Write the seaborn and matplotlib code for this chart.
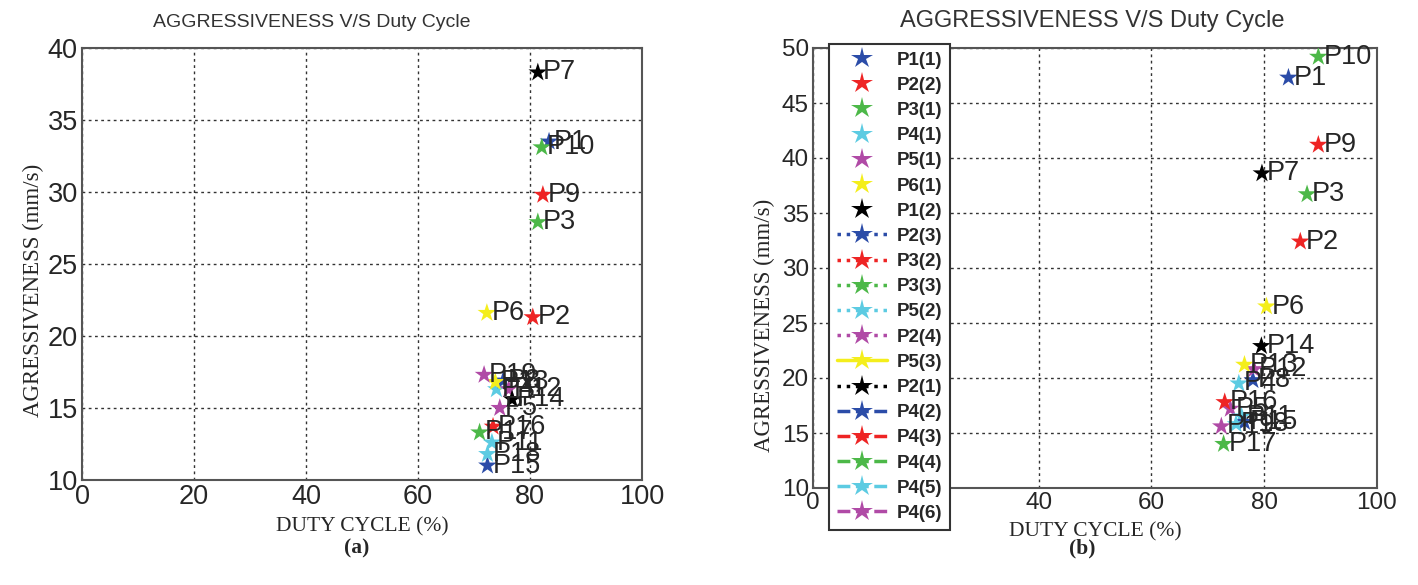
import matplotlib
matplotlib.use("Agg")
import matplotlib.pyplot as plt
from matplotlib.lines import Line2D
import pandas as pd
import seaborn as sns

# point names and legend entries
points = ["P%d" % i for i in range(1, 20)]
legend_labels = ["P1(1)", "P2(2)", "P3(1)", "P4(1)", "P5(1)", "P6(1)", "P1(2)",
                 "P2(3)", "P3(2)", "P3(3)", "P5(2)", "P2(4)", "P5(3)", "P2(1)",
                 "P4(2)", "P4(3)", "P4(4)", "P4(5)", "P4(6)"]

# panel (a)
duty_a = [83.4, 80.5, 81.4, 74.0, 74.6, 72.3, 81.4, 75.2, 82.3, 82.1,
          73.2, 76.2, 73.8, 76.8, 72.4, 73.4, 71.0, 72.4, 71.8]
aggr_a = [33.5, 21.3, 27.9, 16.3, 15.0, 21.6, 38.3, 16.9, 29.8, 33.1,
          12.6, 16.3, 16.8, 15.6, 11.0, 13.7, 13.3, 11.8, 17.3]

# panel (b)
duty_b = [84.3, 86.4, 87.6, 75.5, 74.0, 80.4, 79.6, 78.0, 89.6, 89.6,
          76.0, 78.2, 76.5, 79.5, 76.5, 73.0, 72.8, 75.0, 72.4]
aggr_b = [47.3, 32.4, 36.7, 19.5, 17.2, 26.5, 38.6, 19.8, 41.2, 49.2,
          16.5, 20.8, 21.2, 22.9, 16.0, 17.8, 14.0, 15.8, 15.6]

color_cycle = ["#2b4ca8", "#ee2424", "#4cb848", "#5ccbe2", "#b04aa6", "#f4ee1c", "#000000"]
colors = [color_cycle[i % 7] for i in range(19)]
styles = ["none"] * 7 + [":"] * 5 + ["-"] + [":"] + ["--"] * 5

sns.set_style("white")
plt.rcParams["font.family"] = ["Liberation Sans", "DejaVu Sans"]

W, H = 1418, 585
fig = plt.figure(figsize=(W / 100, H / 100), dpi=100)
ax_a = fig.add_axes([82 / W, 1 - 480 / H, 560 / W, 432 / H])
ax_b = fig.add_axes([813 / W, 1 - 488 / H, 564 / W, 440 / H])

palette = dict(zip(points, colors))


def draw_panel(ax, duty, aggr, ylim, yticks, tick_size, title_x, title_size, ylab_y, xpad):
    df = pd.DataFrame({"point": points, "duty": duty, "aggr": aggr})
    sns.scatterplot(data=df, x="duty", y="aggr", hue="point", palette=palette,
                    marker="*", s=200, linewidth=0, legend=False, ax=ax, zorder=3)
    for name, x, y in zip(points, duty, aggr):
        ax.text(x + 0.9, y, name, fontsize=19.5, ha="left", va="center", zorder=4)
    ax.set_xlim(0, 100)
    ax.set_ylim(*ylim)
    ax.set_xticks([0, 20, 40, 60, 80, 100])
    ax.set_yticks(yticks)
    ax.grid(True, color="#333333", linestyle=(0, (2, 2.5)), linewidth=1)
    ax.tick_params(direction="in", length=4, labelsize=tick_size, pad=3)
    for sp in ax.spines.values():
        sp.set_color("#555555")
        sp.set_linewidth(1.5)
    ax.set_title("AGGRESSIVENESS V/S Duty Cycle", fontsize=title_size, color="#333333",
                 x=title_x, y=1.0, pad=15)
    ax.set_xlabel("DUTY CYCLE (%)", fontsize=15.5, family="Liberation Serif", labelpad=xpad)
    ax.set_ylabel("AGRESSIVENESS (mm/s)", fontsize=16.5, family="Liberation Serif")
    ax.yaxis.set_label_coords(-0.068, ylab_y)


draw_panel(ax_a, duty_a, aggr_a, (10, 40), [10, 15, 20, 25, 30, 35, 40], 19.5,
           0.41, 14, 0.44, 5)
draw_panel(ax_b, duty_b, aggr_b, (10, 50), [10, 15, 20, 25, 30, 35, 40, 45, 50], 17.5,
           0.495, 17, 0.37, 6)

handles = [Line2D([0], [0], color=c, linestyle=ls, linewidth=2.5, marker="*",
                  markersize=16, markeredgewidth=0)
           for c, ls in zip(colors, styles)]
leg = fig.legend(handles, legend_labels, loc="upper left",
                 bbox_to_anchor=(829 / W, 1 - 44 / H), bbox_transform=fig.transFigure,
                 frameon=True, fancybox=False, framealpha=1, edgecolor="#333333",
                 prop={"family": "Liberation Sans", "weight": "bold", "size": 13.5},
                 handlelength=2.7, handletextpad=0.5, labelspacing=0.43,
                 borderpad=0.4, borderaxespad=0)
leg.get_frame().set_linewidth(1.5)

fig.text(357 / W, 1 - 548 / H, "(a)", fontsize=15.5, weight="bold",
         family="Liberation Serif", ha="center", va="center")
fig.text(1082 / W, 1 - 548 / H, "(b)", fontsize=15.5, weight="bold",
         family="Liberation Serif", ha="center", va="center")

fig.savefig("out.png", dpi=100)
